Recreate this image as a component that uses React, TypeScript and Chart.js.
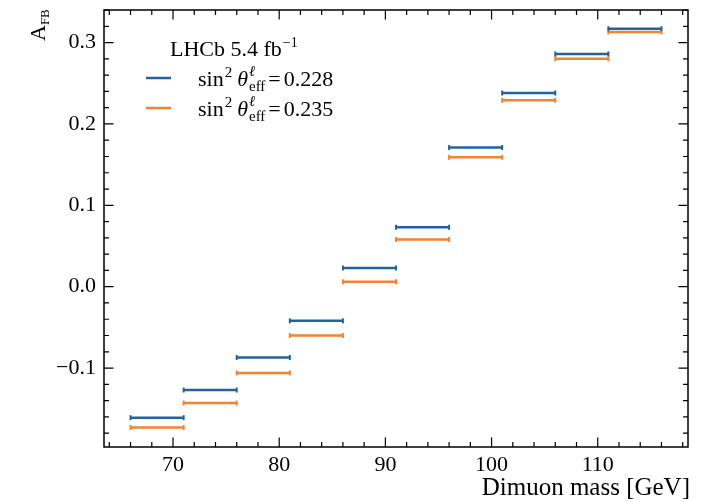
import React, { useEffect, useRef } from 'react';
import { Chart, registerables } from 'chart.js';
Chart.register(...registerables);

// Dimuon mass bin edges [GeV]
const binEdges = [66, 71, 76, 81, 86, 91, 96, 101, 106, 111, 116];
// A_FB predictions for sin^2 theta_eff = 0.228
const afb228 = [-0.161, -0.127, -0.087, -0.042, 0.023, 0.073, 0.171, 0.238, 0.286, 0.317];
// A_FB predictions for sin^2 theta_eff = 0.235
const afb235 = [-0.173, -0.143, -0.106, -0.06, 0.006, 0.058, 0.159, 0.229, 0.28, 0.313];
const seriesValues = ['0.228', '0.235'];
const xTicks = [70, 80, 90, 100, 110];
const yTicks = [-0.1, 0.0, 0.1, 0.2, 0.3];
const legendTitle = 'LHCb 5.4 fb';
const legendTitleSup = '\u22121';
const xTitle = 'Dimuon mass [GeV]';

const BLUE = '#21639e';
const ORANGE = '#f5822f';
const FONT = '"Liberation Serif", "Times New Roman", serif';

function steps(vals: number[]) {
  const pts: { x: number; y: number | null }[] = [];
  vals.forEach((v, i) => {
    pts.push({ x: binEdges[i], y: v });
    pts.push({ x: binEdges[i + 1], y: v });
    pts.push({ x: binEdges[i + 1], y: null });
  });
  return pts;
}

const decor = {
  id: 'decor',
  afterDraw(chart: any) {
    const { ctx, chartArea: ca } = chart;
    const xs = chart.scales.x;
    const ys = chart.scales.y;
    ctx.save();
    ctx.strokeStyle = '#000';
    ctx.lineWidth = 1.5;
    ctx.strokeRect(ca.left, ca.top, ca.right - ca.left, ca.bottom - ca.top);
    const MAJ = 9.5, MIN = 5;
    ctx.lineWidth = 1.2;
    ctx.beginPath();
    for (let v = 64; v <= 118; v += 2) {
      const px = xs.getPixelForValue(v);
      if (px < ca.left || px > ca.right) continue;
      const L = v % 10 === 0 ? MAJ : MIN;
      ctx.moveTo(px, ca.bottom); ctx.lineTo(px, ca.bottom - L);
      ctx.moveTo(px, ca.top); ctx.lineTo(px, ca.top + L);
    }
    for (let k = -10; k <= 17; k++) {
      const py = ys.getPixelForValue(k * 0.02);
      if (py < ca.top || py > ca.bottom) continue;
      const L = k % 5 === 0 ? MAJ : MIN;
      ctx.moveTo(ca.left, py); ctx.lineTo(ca.left + L, py);
      ctx.moveTo(ca.right, py); ctx.lineTo(ca.right - L, py);
    }
    ctx.stroke();

    ctx.fillStyle = '#000';
    ctx.textBaseline = 'alphabetic';
    // x title
    ctx.font = `25px ${FONT}`;
    ctx.textAlign = 'right';
    ctx.fillText(xTitle, ca.right + 2, 495);
    // y title A_FB rotated
    ctx.save();
    ctx.translate(45, 41);
    ctx.rotate(-Math.PI / 2);
    ctx.textAlign = 'left';
    ctx.font = `22px ${FONT}`;
    ctx.fillText('A', 0, 0);
    const wA = ctx.measureText('A').width;
    ctx.font = `13px ${FONT}`;
    ctx.fillText('FB', wA, 4);
    ctx.restore();

    // legend
    ctx.textAlign = 'left';
    ctx.font = `22px ${FONT}`;
    const x0 = 170;
    ctx.fillText(legendTitle, x0, 56);
    const wT = ctx.measureText(legendTitle).width;
    ctx.font = `14px ${FONT}`;
    ctx.fillText(legendTitleSup, x0 + wT + 1, 47);

    const colors = [BLUE, ORANGE];
    const ys0 = [78, 108];
    seriesValues.forEach((val, i) => {
      const yl = ys0[i];
      ctx.strokeStyle = colors[i];
      ctx.lineWidth = 2.5;
      ctx.beginPath();
      ctx.moveTo(146, yl); ctx.lineTo(171, yl);
      ctx.stroke();
      let x = 198;
      const base = yl + 8;
      ctx.font = `22px ${FONT}`;
      ctx.fillText('sin', x, base); x += ctx.measureText('sin').width + 1;
      ctx.font = `15px ${FONT}`;
      ctx.fillText('2', x, base - 9); x += ctx.measureText('2').width + 5;
      ctx.font = `italic 22px ${FONT}`;
      ctx.fillText('\u03b8', x, base); x += ctx.measureText('\u03b8').width + 1;
      ctx.font = `italic 15px ${FONT}`;
      ctx.fillText('\u2113', x, base - 10);
      ctx.font = `15px ${FONT}`;
      ctx.fillText('eff', x, base + 5); x += ctx.measureText('eff').width + 3;
      ctx.font = `22px ${FONT}`;
      ctx.fillText('=', x, base); x += ctx.measureText('=').width + 3;
      ctx.fillText(val, x, base);
    });
    ctx.restore();
  },
};

export default function App() {
  const ref = useRef<HTMLCanvasElement>(null);
  useEffect(() => {
    const chart = new Chart(ref.current as HTMLCanvasElement, {
      type: 'line',
      data: {
        datasets: [
          { label: 'sin2 0.228', data: steps(afb228) as any, borderColor: BLUE, backgroundColor: BLUE },
          { label: 'sin2 0.235', data: steps(afb235) as any, borderColor: ORANGE, backgroundColor: ORANGE },
        ].map((d) => ({
          ...d,
          borderWidth: 2.5,
          spanGaps: false,
          pointStyle: 'line',
          rotation: 90,
          pointRadius: 2.5,
          pointBorderWidth: 2,
          pointBorderColor: d.borderColor,
          pointHoverRadius: 0,
          tension: 0,
        })),
      },
      options: {
        animation: false,
        responsive: false,
        events: [],
        layout: { padding: { top: 10, right: 14, left: 0, bottom: 0 } },
        plugins: { legend: { display: false }, tooltip: { enabled: false } },
        scales: {
          x: {
            type: 'linear',
            min: 63.5,
            max: 118.5,
            afterFit: (s: any) => { s.height = 55; s.paddingLeft = 0; s.paddingRight = 0; },
            afterBuildTicks: (s: any) => { s.ticks = xTicks.map((v) => ({ value: v })); },
            grid: { display: false, drawTicks: false },
            border: { display: false },
            ticks: {
              padding: 5,
              color: '#000',
              font: { family: FONT, size: 22 },
              maxRotation: 0,
              callback: (v: any) => String(v),
            },
          },
          y: {
            type: 'linear',
            min: -0.197,
            max: 0.34,
            afterFit: (s: any) => { s.width = 104; s.paddingTop = 0; s.paddingBottom = 0; },
            afterBuildTicks: (s: any) => { s.ticks = yTicks.map((v) => ({ value: v })); },
            grid: { display: false, drawTicks: false },
            border: { display: false },
            ticks: {
              padding: 8,
              color: '#000',
              font: { family: FONT, size: 22 },
              callback: (v: any) => (v < -1e-9 ? '\u2212' : '') + Math.abs(v).toFixed(1),
            },
          },
        },
      },
      plugins: [decor],
    } as any);
    return () => chart.destroy();
  }, []);
  return (
    <div style={{ position: 'fixed', left: 0, top: 0, width: 702, height: 502, background: '#fff' }}>
      <canvas ref={ref} width={702} height={502} style={{ display: 'block' }} />
    </div>
  );
}
